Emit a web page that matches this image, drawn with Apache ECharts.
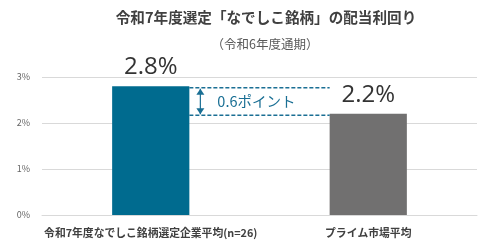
<!DOCTYPE html>
<html>
<head>
<meta charset="utf-8">
<script src="https://cdn.jsdelivr.net/npm/echarts@6/dist/echarts.min.js"></script>
<style>
  html, body { margin: 0; padding: 0; background: #fff; }
  #chart { width: 493px; height: 249px; }
</style>
</head>
<body>
<div id="chart"></div>
<script>
(function () {
  // データ
  const categories = ['令和7年度なでしこ銘柄選定企業平均(n=26)', 'プライム市場平均'];
  const yields = [2.8, 2.2];
  const barColors = ['#006b8f', '#717070'];
  const diffLabel = '0.6ポイント';
  const yTicks = [0, 1, 2, 3];

  const chart = echarts.init(document.getElementById('chart'));
  const FONT = '"Noto Sans CJK JP", "Noto Sans", sans-serif';
  const BAR_RATIO = 0.355;

  // 差分の矢印と点線
  function renderDiff(params, api) {
    const p0 = api.coord([0, yields[0]]);
    const p1 = api.coord([1, yields[1]]);
    const bw = api.size([1, 0])[0] * BAR_RATIO;
    const x0 = p0[0] + bw / 2;
    const x1 = p1[0] - bw / 2;
    const yTop = p0[1] + 1.5;
    const yBot = p1[1] + 1.5;
    const ax = x0 + 11;
    const dash = { stroke: '#1a6f94', lineWidth: 1.5, lineDash: [4, 2] };
    const solid = { stroke: '#1a6f94', lineWidth: 1.2 };
    return {
      type: 'group',
      children: [
        { type: 'line', shape: { x1: x0, y1: yTop, x2: x1, y2: yTop }, style: dash },
        { type: 'line', shape: { x1: x0, y1: yBot, x2: x1, y2: yBot }, style: dash },
        { type: 'line', shape: { x1: ax, y1: yTop + 1, x2: ax, y2: yBot - 1 }, style: solid },
        { type: 'polygon', shape: { points: [[ax, yTop + 1], [ax - 4, yTop + 7], [ax + 4, yTop + 7]] }, style: { fill: '#1a6f94' } },
        { type: 'polygon', shape: { points: [[ax, yBot - 1], [ax - 4, yBot - 7], [ax + 4, yBot - 7]] }, style: { fill: '#1a6f94' } },
        {
          type: 'text',
          style: {
            x: ax + 17, y: (yTop + yBot) / 2,
            text: diffLabel, fill: '#1a6f94', font: '14.5px ' + FONT,
            textVerticalAlign: 'middle', textAlign: 'left'
          }
        }
      ]
    };
  }

  chart.setOption({
    animation: false,
    title: [
      {
        text: '令和7年度選定「なでしこ銘柄」の配当利回り',
        left: 261, top: 5, textAlign: 'center',
        textStyle: { fontFamily: FONT, fontSize: 14.6, fontWeight: 'bold', color: '#404040' }
      },
      {
        text: '（令和6年度通期）',
        left: 260, top: 33, textAlign: 'center',
        textStyle: { fontFamily: FONT, fontSize: 12.5, fontWeight: 'normal', color: '#595959' }
      }
    ],
    grid: { left: 42, right: 16, top: 77, bottom: 34 },
    xAxis: {
      type: 'category',
      data: categories,
      axisLine: { lineStyle: { color: '#d9d9d9' } },
      axisTick: { show: false },
      axisLabel: {
        fontFamily: FONT, fontSize: 10.8, fontWeight: 'bold', color: '#404040',
        margin: 13, interval: 0
      }
    },
    yAxis: {
      type: 'value',
      min: yTicks[0], max: yTicks[yTicks.length - 1], interval: 1,
      axisLabel: { formatter: '{value}%', fontFamily: FONT, fontSize: 9, color: '#666', margin: 12 },
      splitLine: { lineStyle: { color: '#d9d9d9' } }
    },
    series: [
      {
        type: 'bar',
        barWidth: (BAR_RATIO * 100) + '%',
        data: yields.map((v, i) => ({ value: v, itemStyle: { color: barColors[i] } })),
        label: {
          show: true, position: 'top', distance: 7,
          formatter: p => p.value.toFixed(1) + '%',
          fontFamily: '"Open Sans", "Noto Sans", sans-serif', fontSize: 24, color: '#333'
        }
      },
      {
        type: 'custom',
        renderItem: renderDiff,
        data: [0],
        silent: true,
        z: 5
      }
    ]
  });
})();
</script>
</body>
</html>
